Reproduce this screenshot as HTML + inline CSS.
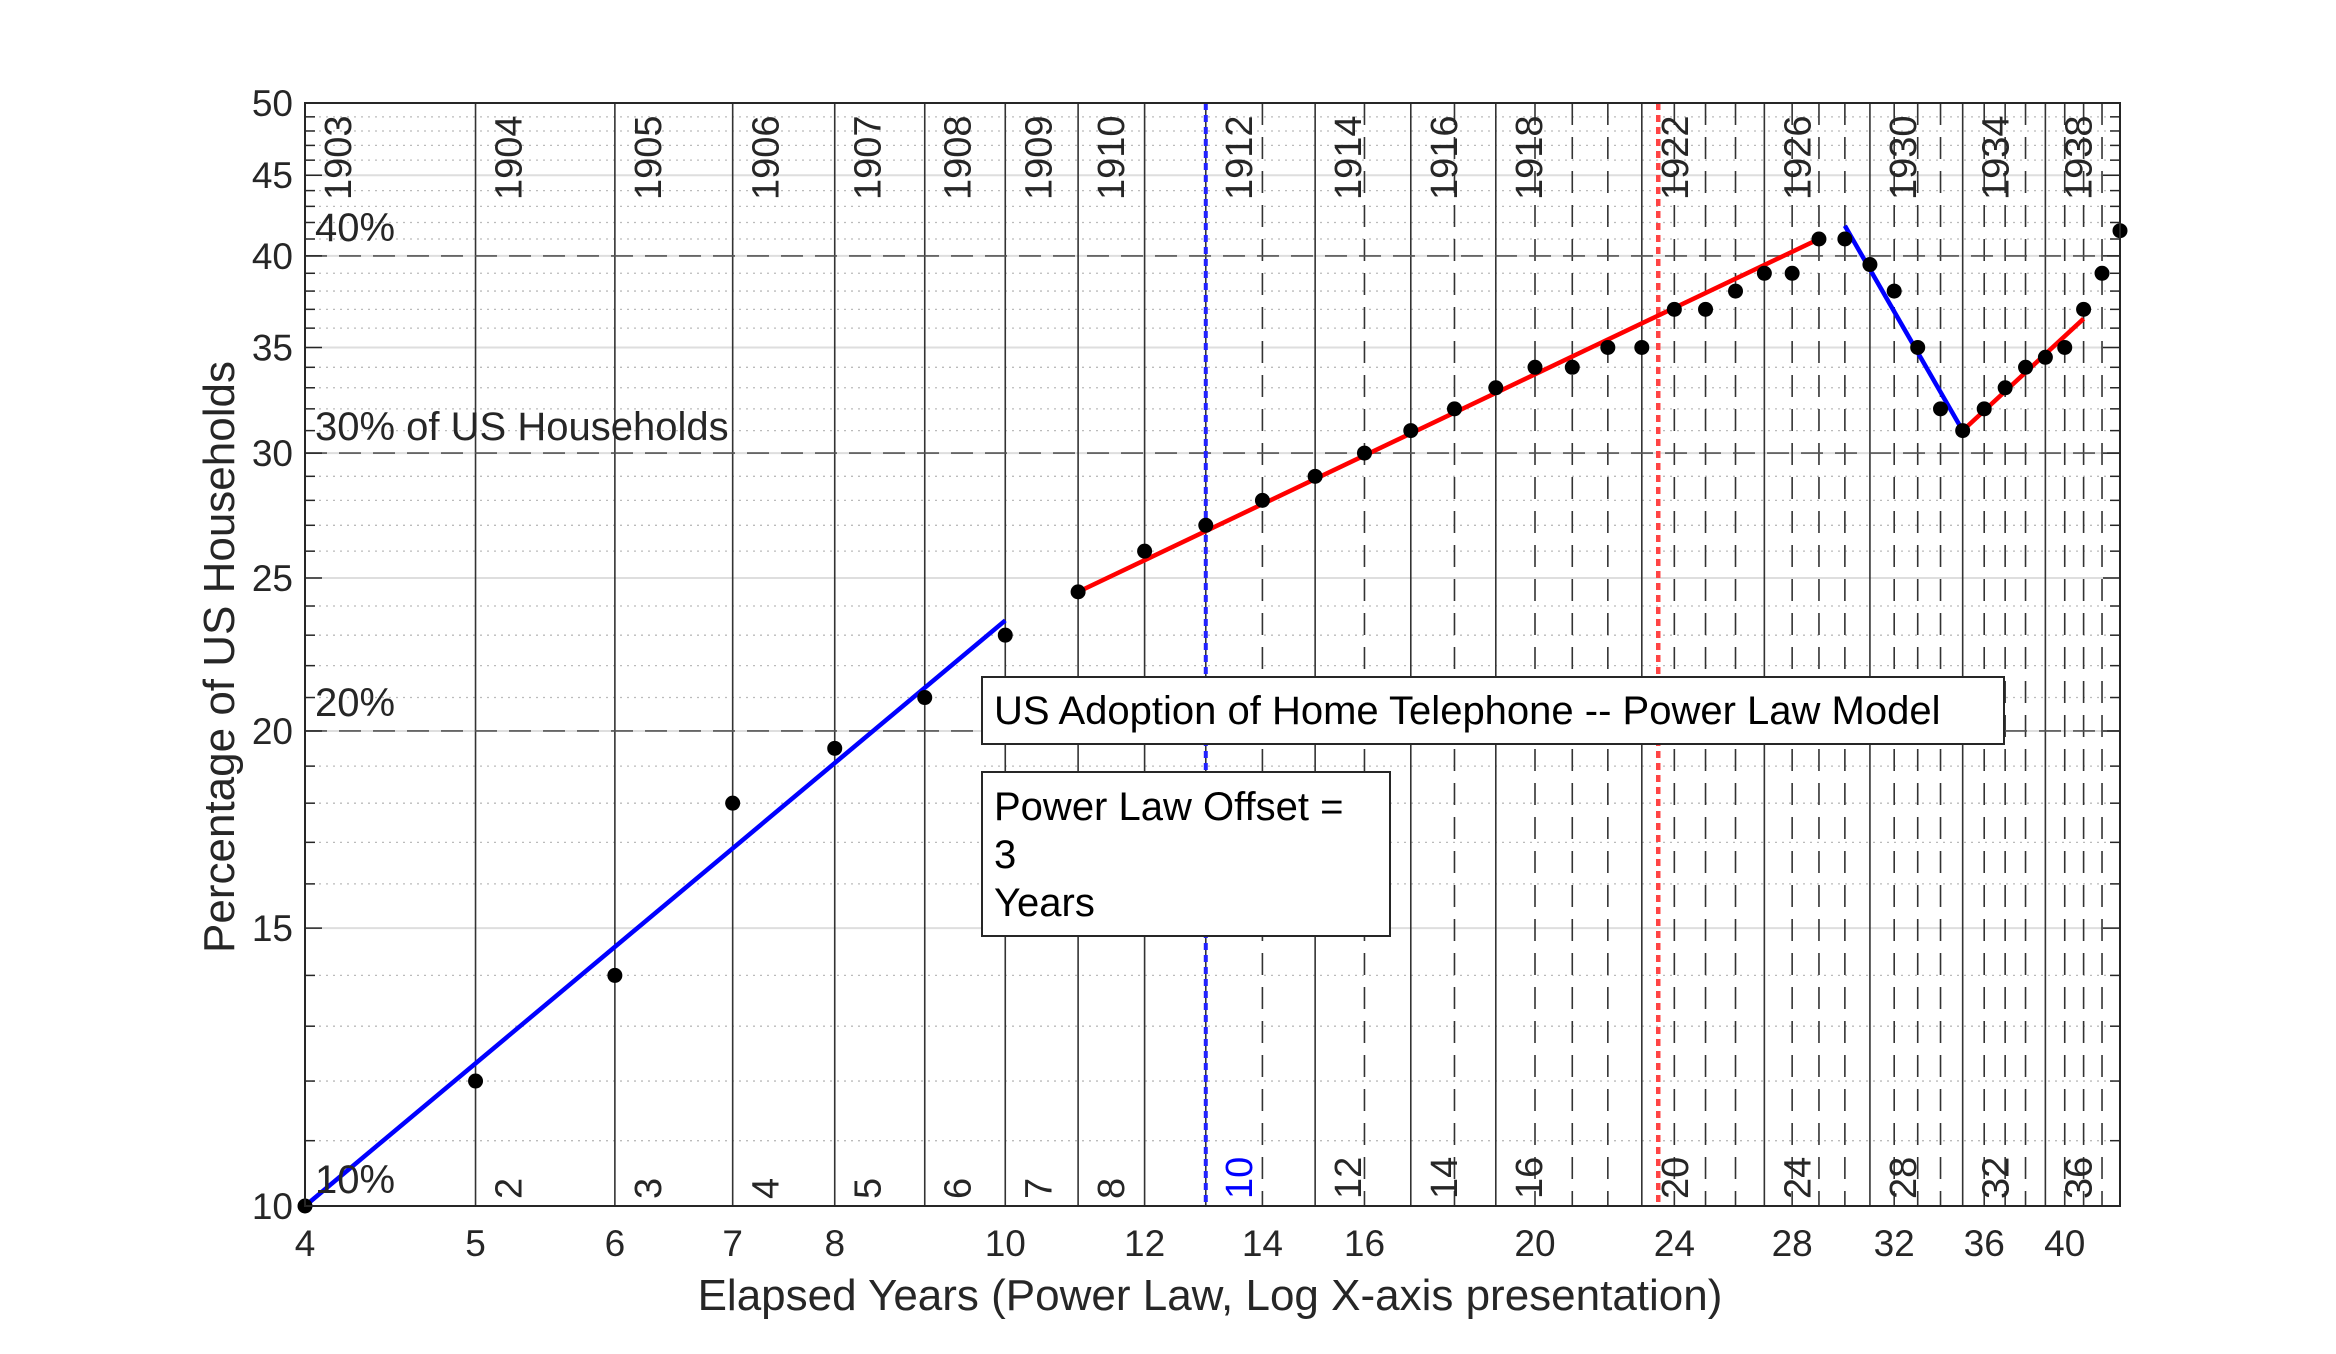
<!DOCTYPE html>
<html><head><meta charset="utf-8">
<style>
html,body{margin:0;padding:0;background:#fff;}
svg{display:block;font-family:"Liberation Sans",Arial,sans-serif;}
</style></head>
<body>
<svg id="chart" xmlns="http://www.w3.org/2000/svg" width="2336" height="1354" viewBox="0 0 2336 1354">
<rect x="0" y="0" width="2336" height="1354" fill="#fff"/>
<g id="grid"></g>
<g id="marks"></g>
<g id="axes"></g>
<g id="notes"></g>
</svg>
<script>
const xValues = [4,5,6,7,8,9,10,11,12,13,14,15,16,17,18,19,20,21,22,23,24,25,26,27,28,29,30,31,32,33,34,35,36,37,38,39,40,41,42,43];
const yValues = [10,12,14,18,19.5,21,23,24.5,26,27,28,29,30,31,32,33,34,34,35,35,37,37,38,39,39,41,41,39.5,38,35,32,31,32,33,34,34.5,35,37,39,41.5];
const xTicks = [4,5,6,7,8,10,12,14,16,20,24,28,32,36,40];
const yTicks = [10,15,20,25,30,35,40,45,50];
const yearLabels = [1903,1904,1905,1906,1907,1908,1909,1910,1912,1914,1916,1918,1922,1926,1930,1934,1938];
const offsetLabels = [2,3,4,5,6,7,8,10,12,14,16,20,24,28,32,36];
const fitSegments = [
  {x0:4,y0:10,x1:10,y1:23.5,color:"#0000ff"},
  {x0:11,y0:24.5,x1:29,y1:41,color:"#ff0000"},
  {x0:30,y0:41.8,x1:35,y1:31,color:"#0000ff"},
  {x0:35,y0:31,x1:41,y1:36.5,color:"#ff0000"}
];
const yearBase = 1899;
const offsetYears = 3;
const blueMarker = 13;
const redMarker = 23.5;
const refLevels = [20,30,40];

const L=305,R=2120,T=103,B=1206;
const XMIN=4,XMAX=43,YMIN=10,YMAX=50;
const xs=v=>L+(R-L)*Math.log(v/XMIN)/Math.log(XMAX/XMIN);
const ys=v=>B-(B-T)*Math.log(v/YMIN)/Math.log(YMAX/YMIN);
const NS="http://www.w3.org/2000/svg";
function mk(tag,parent,attrs){const e=document.createElementNS(NS,tag);for(const k in attrs)e.setAttribute(k,attrs[k]);parent.appendChild(e);return e;}
const grid=document.getElementById('grid'),marks=document.getElementById('marks'),axes=document.getElementById('axes'),notes=document.getElementById('notes');

for(let v=11;v<50;v++){
  const y=ys(v);
  const major=v%5===0;
  const l=mk('line',grid,{x1:L,x2:R,y1:y,y2:y,stroke:major?'#dedede':'#bbb','stroke-width':major?2:1.3,'stroke-dasharray':major?'none':'2 5'});
  
  
}
for(let x=5;x<=43;x++){
  const year=x+yearBase;
  const solid=yearLabels.includes(year)||x<=12;
  const l=mk('line',grid,{x1:xs(x),x2:xs(x),y1:T,y2:B,stroke:'#333','stroke-width':1.6,'stroke-dasharray':solid?'none':'22 12'});
  
  
}
refLevels.forEach(v=>{
  const l=mk('line',grid,{x1:L,x2:R,y1:ys(v),y2:ys(v),stroke:'#555','stroke-width':1.6,'stroke-dasharray':'22 12'});
  
  
});
let bl=mk('line',grid,{x1:xs(blueMarker),x2:xs(blueMarker),y1:T,y2:B,stroke:'#2222ff','stroke-width':4,'stroke-dasharray':'7 5'});


let rl=mk('line',grid,{x1:xs(redMarker),x2:xs(redMarker),y1:T,y2:B,stroke:'#ff4444','stroke-width':4.5,'stroke-dasharray':'7 5'});



fitSegments.forEach((s,i)=>{
  const l=mk('line',marks,{x1:xs(s.x0),y1:ys(s.y0),x2:xs(s.x1),y2:ys(s.y1),stroke:s.color,'stroke-width':4.5});
  
  
});
xValues.forEach((x,i)=>{
  const c=mk('circle',marks,{cx:xs(x),cy:ys(yValues[i]),r:7.5,fill:'#000'});
  
  
});

const fr=mk('rect',axes,{x:L,y:T,width:R-L,height:B-T,fill:'none',stroke:'#262626','stroke-width':2});


for(let v=10;v<=50;v++){
  const y=ys(v);const len=v%5===0?17:10;
  mk('line',axes,{x1:L,x2:L+len,y1:y,y2:y,stroke:'#262626','stroke-width':1.5});
  mk('line',axes,{x1:R,x2:R-len,y1:y,y2:y,stroke:'#262626','stroke-width':1.5});
}
yTicks.forEach(v=>{
  const t=mk('text',axes,{x:L-12,y:ys(v)+13,'text-anchor':'end','font-size':37,fill:'#262626'});
  t.textContent=v;
  
  
});
xTicks.forEach(v=>{
  const t=mk('text',axes,{x:xs(v),y:1256,'text-anchor':'middle','font-size':37,fill:'#262626'});
  t.textContent=v;
  
  
});
yearLabels.forEach(yr=>{
  const x=xs(yr-yearBase)+46;
  const t=mk('text',axes,{x:x,y:200,transform:'rotate(-90 '+x+' 200)','font-size':38,fill:'#262626'});
  t.textContent=yr;
  
  
});
offsetLabels.forEach(o=>{
  const x=xs(o+offsetYears)+46;
  const t=mk('text',axes,{x:x,y:1199,transform:'rotate(-90 '+x+' 1199)','font-size':38,fill:o===10?'#0000ff':'#262626'});
  t.textContent=o;
  
  
});
</script>
<svg style="position:absolute;left:0;top:0" width="2336" height="1354" xmlns="http://www.w3.org/2000/svg">
<g font-family="Liberation Sans, Arial, sans-serif" fill="#262626">
<text x="315" y="241" font-size="40">40%</text>
<text x="315" y="440" font-size="40">30% of US Households</text>
<text x="315" y="716" font-size="40">20%</text>
<text x="315" y="1193" font-size="40">10%</text>
<text x="1210" y="1310" font-size="44" text-anchor="middle">Elapsed Years (Power Law, Log X-axis presentation)</text>
<text x="234" y="657" font-size="44" text-anchor="middle" transform="rotate(-90 234 657)">Percentage of US Households</text>
</g>
<g>
<rect x="982" y="677" width="1022" height="67" fill="#fff" stroke="#262626" stroke-width="2"/>
<text x="994" y="724" font-size="40" fill="#000" font-family="Liberation Sans, Arial, sans-serif">US Adoption of Home Telephone -- Power Law Model</text>
</g>
<g font-family="Liberation Sans, Arial, sans-serif" fill="#000" font-size="40">
<rect x="982" y="772" width="408" height="164" fill="#fff" stroke="#262626" stroke-width="2"/>
<text x="994" y="820">Power Law Offset =</text>
<text x="994" y="868">3</text>
<text x="994" y="916">Years</text>
</g>
</svg>
</body></html>
